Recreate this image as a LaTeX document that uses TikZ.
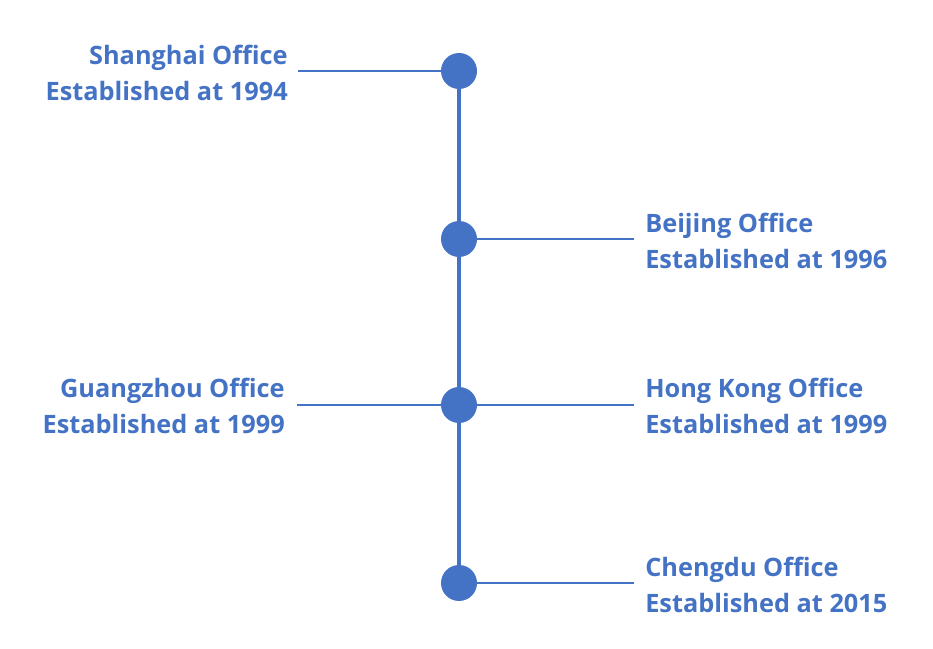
\documentclass[tikz,border=0pt]{standalone}
\usepackage{fontspec}
\setmainfont{Open Sans}
\definecolor{tblue}{HTML}{4472C4}
\begin{document}
\begin{tikzpicture}[x=0.75pt,y=-0.75pt,
  dot/.style={circle,fill=tblue,inner sep=0pt,minimum size=27pt},
  conn/.style={draw=tblue,line width=0.8pt},
  spine/.style={draw=tblue,line width=3pt},
  lbl/.style={text=tblue,font=\bfseries\fontsize{19}{27}\selectfont,inner sep=0pt}]
\useasboundingbox (0,0) rectangle (933,649);
\coordinate (p1) at (459,71);
\coordinate (p4) at (459,583);
\draw[spine] (p1) -- (p4);
\node[dot] (d1) at (p1) {};
\node[dot] (d2) at (459,239) {};
\node[dot] (d3) at (459,405) {};
\node[dot] (d4) at (p4) {};
\coordinate (c1) at (298,71);
\coordinate (c2) at (634,239);
\coordinate (c3) at (297,405);
\coordinate (c4) at (634,405);
\coordinate (c5) at (634,583);
\draw[conn] (d1.west) -- (c1);
\draw[conn] (d2.east) -- (c2);
\draw[conn] (d3.west) -- (c3);
\draw[conn] (d3.east) -- (c4);
\draw[conn] (d4.east) -- (c5);
\node[lbl,align=right,anchor=east] (t1) at (288,73) {Shanghai Office\\Established at 1994};
\node[lbl,align=left,anchor=west] (t2) at (645,241) {Beijing Office\\Established at 1996};
\node[lbl,align=right,anchor=east] (t3) at (285,406) {Guangzhou Office\\Established at 1999};
\node[lbl,align=left,anchor=west] (t4) at (645,406) {Hong Kong Office\\Established at 1999};
\node[lbl,align=left,anchor=west] (t5) at (645,585) {Chengdu Office\\Established at 2015};
\end{tikzpicture}
\end{document}
